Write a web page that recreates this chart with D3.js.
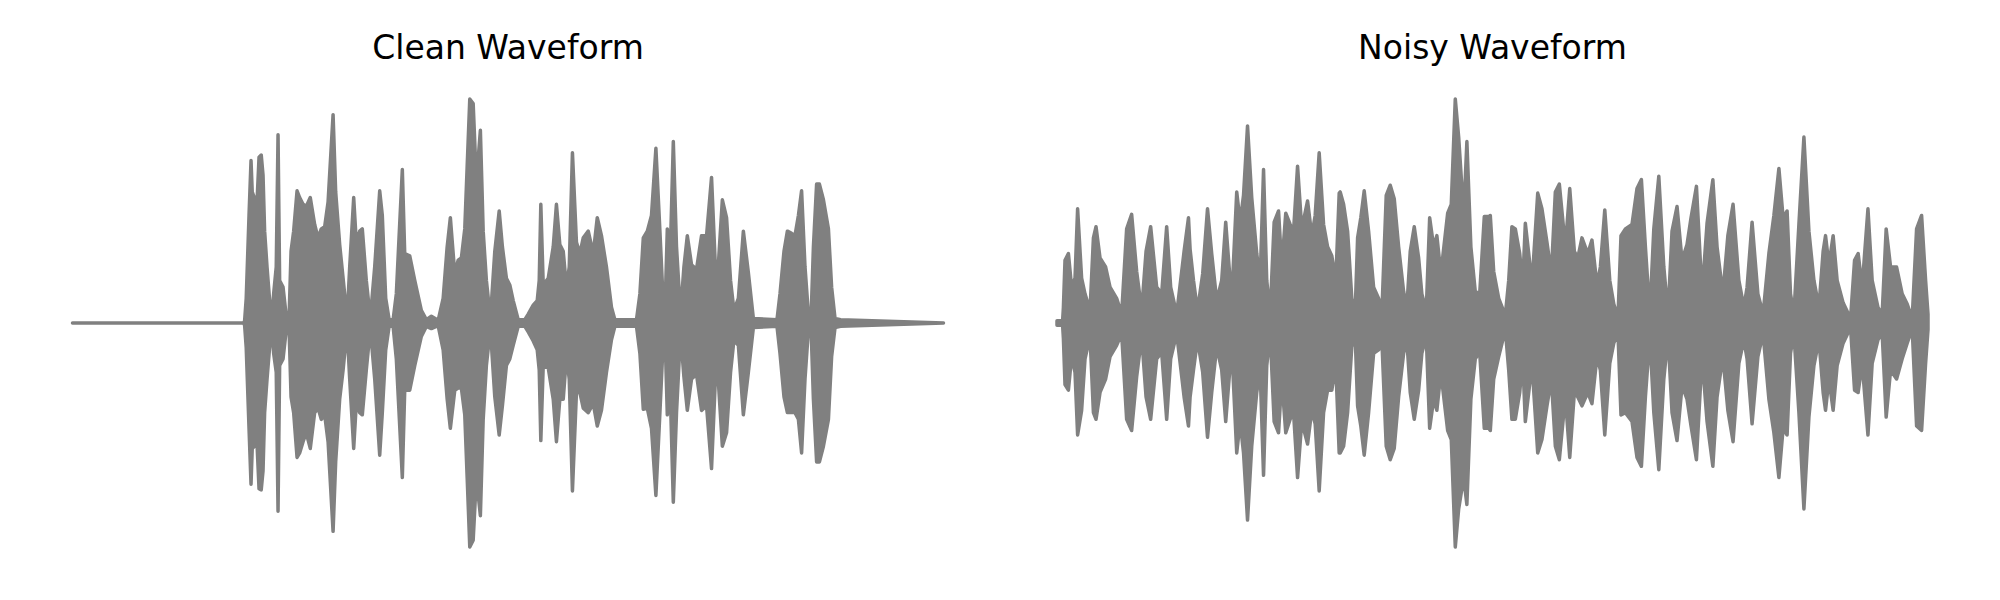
<!DOCTYPE html>
<html>
<head>
<meta charset="utf-8">
<script src="https://cdn.jsdelivr.net/npm/d3@7"></script>
<style>
  html, body { margin: 0; padding: 0; background: #ffffff; }
  svg { display: block; }
</style>
</head>
<body>
<svg id="chart" width="2000" height="600"></svg>
<script>
// ---- Data (time in ms, amplitude normalised to peak = 1) ----
const titles = ["Clean Waveform", "Noisy Waveform"];

const cleanTime = [0, 855, 860, 868, 882, 892, 898, 910, 922, 932, 943, 952, 960, 972, 985, 995, 1005, 1018, 1027, 1035, 1052, 1068, 1082, 1092, 1105, 1122, 1135, 1152, 1168, 1188, 1210, 1227, 1243, 1260, 1277, 1302, 1315, 1335, 1352, 1372, 1385, 1405, 1418, 1435, 1448, 1468, 1488, 1510, 1535, 1548, 1565, 1582, 1602, 1618, 1648, 1660, 1685, 1710, 1743, 1768, 1793, 1827, 1852, 1872, 1888, 1910, 1927, 1943, 1960, 1972, 1985, 2002, 2018, 2038, 2052, 2068, 2088, 2110, 2132, 2148, 2168, 2185, 2202, 2227, 2260, 2277, 2302, 2322, 2332, 2340, 2352, 2377, 2402, 2418, 2435, 2452, 2468, 2482, 2498, 2518, 2535, 2552, 2577, 2602, 2622, 2643, 2668, 2693, 2710, 2818, 2835, 2852, 2872, 2893, 2915, 2935, 2948, 2960, 2972, 2985, 3002, 3018, 3038, 3055, 3072, 3093, 3118, 3143, 3168, 3193, 3218, 3247, 3268, 3288, 3305, 3327, 3352, 3377, 3402, 3520, 3535, 3555, 3572, 3593, 3610, 3627, 3643, 3660, 3677, 3690, 3702, 3718, 3732, 3752, 3777, 3793, 3810, 3838, 4352];
const cleanUpper = [0, 0, 0.01, 0.11, 0.48, 0.725, 0.585, 0.556, 0.54, 0.74, 0.75, 0.66, 0.41, 0.25, 0.10, 0.02, 0.13, 0.25, 0.84, 0.19, 0.16, 0.03, 0.02, 0.32, 0.41, 0.59, 0.56, 0.53, 0.52, 0.56, 0.44, 0.38, 0.42, 0.43, 0.54, 0.93, 0.585, 0.35, 0.20, 0.02, 0.25, 0.56, 0.36, 0.41, 0.42, 0.19, 0.02, 0.25, 0.59, 0.48, 0.11, 0.015, 0.015, 0.13, 0.685, 0.31, 0.30, 0.19, 0.056, 0.015, 0.03, 0.012, 0.11, 0.34, 0.47, 0.22, 0.28, 0.29, 0.42, 0.70, 1.0, 0.98, 0.63, 0.86, 0.41, 0.19, 0.02, 0.32, 0.50, 0.34, 0.20, 0.17, 0.10, 0.015, 0.015, 0.04, 0.08, 0.10, 0.19, 0.53, 0.17, 0.20, 0.34, 0.53, 0.35, 0.32, 0.16, 0.25, 0.76, 0.36, 0.31, 0.38, 0.41, 0.31, 0.47, 0.39, 0.25, 0.07, 0.015, 0.015, 0.13, 0.38, 0.41, 0.48, 0.78, 0.41, 0.16, 0.04, 0.42, 0.25, 0.81, 0.34, 0.04, 0.25, 0.39, 0.26, 0.24, 0.39, 0.39, 0.65, 0.13, 0.55, 0.47, 0.19, 0.056, 0.11, 0.41, 0.225, 0.02, 0.015, 0.13, 0.32, 0.41, 0.40, 0.39, 0.48, 0.59, 0.25, 0.04, 0.015, 0.34, 0.62, 0.62, 0.55, 0.42, 0.16, 0.02, 0.015, 0];
const cleanLower = [0, 0, -0.01, -0.11, -0.47, -0.72, -0.56, -0.55, -0.54, -0.74, -0.745, -0.66, -0.40, -0.25, -0.106, -0.02, -0.135, -0.22, -0.84, -0.19, -0.16, -0.03, -0.02, -0.33, -0.40, -0.60, -0.58, -0.53, -0.49, -0.56, -0.40, -0.38, -0.43, -0.41, -0.53, -0.93, -0.62, -0.34, -0.21, -0.025, -0.25, -0.56, -0.36, -0.40, -0.41, -0.21, -0.025, -0.25, -0.59, -0.40, -0.12, -0.015, -0.015, -0.16, -0.69, -0.30, -0.30, -0.19, -0.06, -0.015, -0.025, -0.012, -0.12, -0.34, -0.47, -0.30, -0.29, -0.29, -0.41, -0.69, -1.0, -0.97, -0.69, -0.86, -0.43, -0.19, -0.025, -0.33, -0.50, -0.37, -0.19, -0.16, -0.10, -0.015, -0.015, -0.04, -0.08, -0.12, -0.21, -0.525, -0.19, -0.20, -0.34, -0.53, -0.34, -0.34, -0.15, -0.25, -0.75, -0.31, -0.31, -0.38, -0.40, -0.36, -0.46, -0.39, -0.22, -0.075, -0.015, -0.015, -0.135, -0.385, -0.38, -0.47, -0.77, -0.40, -0.15, -0.03, -0.41, -0.25, -0.80, -0.40, -0.047, -0.24, -0.39, -0.25, -0.23, -0.39, -0.37, -0.65, -0.13, -0.55, -0.49, -0.22, -0.075, -0.10, -0.41, -0.22, -0.02, -0.015, -0.135, -0.33, -0.40, -0.40, -0.40, -0.43, -0.58, -0.25, -0.03, -0.015, -0.34, -0.62, -0.62, -0.55, -0.43, -0.15, -0.02, -0.015, 0];

const noisyTime = [0, 28, 32, 40, 57, 73, 90, 103, 123, 140, 165, 182, 195, 215, 243, 265, 298, 323, 348, 373, 398, 423, 445, 468, 498, 523, 548, 568, 598, 635, 657, 665, 682, 702, 728, 752, 773, 798, 823, 843, 865, 878, 898, 915, 932, 952, 973, 998, 1015, 1032, 1048, 1065, 1085, 1107, 1123, 1143, 1165, 1182, 1202, 1223, 1252, 1273, 1290, 1310, 1332, 1352, 1373, 1393, 1410, 1415, 1432, 1452, 1473, 1490, 1502, 1518, 1535, 1557, 1582, 1607, 1623, 1645, 1665, 1685, 1707, 1732, 1748, 1765, 1785, 1807, 1823, 1845, 1862, 1882, 1898, 1918, 1952, 1970, 1990, 2007, 2032, 2048, 2068, 2090, 2112, 2135, 2157, 2165, 2182, 2207, 2240, 2257, 2273, 2290, 2312, 2327, 2340, 2357, 2373, 2402, 2423, 2448, 2470, 2490, 2510, 2540, 2562, 2585, 2602, 2623, 2652, 2673, 2698, 2715, 2737, 2762, 2782, 2803, 2818, 2840, 2873, 2898, 2920, 2940, 2962, 2982, 3007, 3032, 3053, 3073, 3098, 3123, 3148, 3168, 3195, 3223, 3248, 3277, 3298, 3327, 3352, 3378, 3407, 3432, 3448, 3473, 3502, 3528, 3557, 3582, 3607, 3628, 3648, 3665, 3682, 3707, 3732, 3757, 3782, 3807, 3828, 3840, 3857, 3878, 3898, 3928, 3965, 3985, 4003, 4023, 4052, 4073, 4102, 4123, 4143, 4165, 4195, 4223, 4248, 4273, 4295, 4320, 4340, 4352];
const noisyUpper = [0.01, 0.01, 0.07, 0.28, 0.31, 0.16, 0.20, 0.51, 0.20, 0.13, 0.056, 0.38, 0.43, 0.29, 0.25, 0.16, 0.11, 0.04, 0.42, 0.485, 0.23, 0.056, 0.32, 0.43, 0.16, 0.13, 0.43, 0.16, 0.04, 0.32, 0.47, 0.33, 0.19, 0.056, 0.22, 0.51, 0.31, 0.10, 0.19, 0.45, 0.19, 0.20, 0.585, 0.45, 0.57, 0.88, 0.56, 0.31, 0.19, 0.685, 0.19, 0.04, 0.45, 0.50, 0.25, 0.49, 0.44, 0.41, 0.70, 0.42, 0.545, 0.39, 0.48, 0.76, 0.44, 0.34, 0.30, 0.19, 0.58, 0.585, 0.53, 0.41, 0.11, 0.056, 0.38, 0.47, 0.59, 0.41, 0.16, 0.11, 0.04, 0.57, 0.615, 0.555, 0.34, 0.14, 0.07, 0.32, 0.43, 0.29, 0.13, 0.056, 0.47, 0.34, 0.39, 0.22, 0.49, 0.53, 1.0, 0.83, 0.48, 0.81, 0.34, 0.14, 0.13, 0.475, 0.475, 0.48, 0.23, 0.11, 0.034, 0.19, 0.43, 0.42, 0.31, 0.17, 0.445, 0.31, 0.17, 0.58, 0.51, 0.36, 0.22, 0.585, 0.62, 0.34, 0.60, 0.32, 0.29, 0.38, 0.31, 0.37, 0.17, 0.25, 0.505, 0.19, 0.085, 0.026, 0.39, 0.42, 0.44, 0.60, 0.64, 0.34, 0.04, 0.42, 0.655, 0.25, 0.04, 0.41, 0.52, 0.28, 0.35, 0.47, 0.61, 0.13, 0.445, 0.64, 0.34, 0.13, 0.39, 0.53, 0.19, 0.07, 0.16, 0.45, 0.13, 0.04, 0.31, 0.48, 0.69, 0.47, 0.50, 0.13, 0.04, 0.44, 0.83, 0.41, 0.19, 0.07, 0.32, 0.39, 0.26, 0.39, 0.19, 0.09, 0.02, 0.28, 0.31, 0.16, 0.51, 0.19, 0.07, 0.04, 0.42, 0.25, 0.25, 0.13, 0.085, 0.02, 0.42, 0.48, 0.19, 0.04];
const noisyLower = [-0.01, -0.01, -0.07, -0.275, -0.30, -0.15, -0.22, -0.50, -0.39, -0.16, -0.06, -0.40, -0.43, -0.31, -0.25, -0.15, -0.10, -0.047, -0.43, -0.48, -0.24, -0.06, -0.33, -0.43, -0.16, -0.13, -0.43, -0.16, -0.047, -0.33, -0.46, -0.33, -0.21, -0.075, -0.22, -0.51, -0.31, -0.106, -0.21, -0.44, -0.19, -0.20, -0.58, -0.44, -0.58, -0.88, -0.55, -0.31, -0.21, -0.68, -0.19, -0.047, -0.44, -0.49, -0.25, -0.49, -0.43, -0.40, -0.69, -0.44, -0.54, -0.39, -0.45, -0.75, -0.40, -0.30, -0.30, -0.19, -0.58, -0.58, -0.55, -0.40, -0.106, -0.06, -0.37, -0.46, -0.59, -0.40, -0.135, -0.12, -0.075, -0.55, -0.61, -0.56, -0.33, -0.135, -0.075, -0.31, -0.43, -0.30, -0.135, -0.06, -0.47, -0.34, -0.39, -0.22, -0.48, -0.52, -1.0, -0.83, -0.69, -0.81, -0.34, -0.16, -0.13, -0.47, -0.47, -0.48, -0.25, -0.15, -0.03, -0.21, -0.43, -0.43, -0.31, -0.16, -0.44, -0.31, -0.18, -0.58, -0.52, -0.37, -0.25, -0.55, -0.61, -0.33, -0.60, -0.31, -0.33, -0.37, -0.31, -0.36, -0.15, -0.21, -0.50, -0.18, -0.09, -0.047, -0.41, -0.40, -0.44, -0.60, -0.64, -0.33, -0.06, -0.40, -0.655, -0.25, -0.06, -0.40, -0.525, -0.28, -0.34, -0.46, -0.61, -0.15, -0.44, -0.64, -0.33, -0.15, -0.39, -0.53, -0.18, -0.075, -0.16, -0.45, -0.15, -0.047, -0.34, -0.49, -0.69, -0.47, -0.50, -0.135, -0.047, -0.40, -0.83, -0.42, -0.19, -0.075, -0.31, -0.39, -0.25, -0.39, -0.19, -0.09, -0.02, -0.30, -0.31, -0.18, -0.50, -0.18, -0.075, -0.047, -0.42, -0.21, -0.25, -0.16, -0.09, -0.025, -0.46, -0.48, -0.18, -0.03];

// ---- Layout ----
const svg = d3.select("#chart");
const grey = "#808080";
const panels = [
  { title: titles[0], time: cleanTime, upper: cleanUpper, lower: cleanLower, x0: 72.5, x1: 943.5 },
  { title: titles[1], time: noisyTime, upper: noisyUpper, lower: noisyLower, x0: 1057, x1: 1928 }
];

const y = d3.scaleLinear().domain([-1, 1]).range([547, 99]);

panels.forEach(p => {
  const x = d3.scaleLinear().domain([0, 4352]).range([p.x0, p.x1]);
  const rows = p.time.map((t, i) => ({ t, hi: p.upper[i], lo: p.lower[i] }));
  const area = d3.area()
    .x(d => x(d.t))
    .y0(d => y(d.lo))
    .y1(d => y(d.hi))
    .curve(d3.curveLinear);
  const g = svg.append("g");
  g.append("path")
    .datum(rows)
    .attr("d", area)
    .attr("fill", grey)
    .attr("stroke", grey)
    .attr("stroke-width", 3.5)
    .attr("stroke-linejoin", "round")
    .attr("stroke-linecap", "round");
  g.append("text")
    .attr("x", (p.x0 + p.x1) / 2)
    .attr("y", 59)
    .attr("text-anchor", "middle")
    .attr("font-family", "DejaVu Sans, sans-serif")
    .attr("font-size", 33)
    .attr("fill", "#000")
    .text(p.title);
});
</script>
</body>
</html>
